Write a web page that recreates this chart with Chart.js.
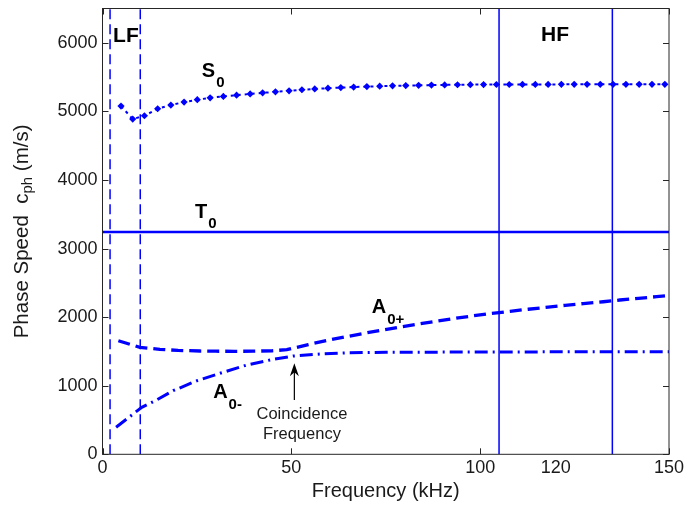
<!DOCTYPE html>
<html>
<head>
<meta charset="utf-8">
<script src="https://cdn.jsdelivr.net/npm/chart.js@4.4.1/dist/chart.umd.min.js"></script>
<style>
	html, body { margin: 0; padding: 0; background: #fff; }
	#wrap { width: 686px; height: 512px; position: relative; }
</style>
</head>
<body>
<div id="wrap"><canvas id="chart"></canvas></div>
<script>
// Axis ticks
const xTicks = [ 0, 50, 100, 120, 150 ];
const yTicks = [ 0, 1000, 2000, 3000, 4000, 5000, 6000 ];

// S0 mode (dotted with markers)
const s0Freq = [ 4.9, 8.0, 11.1, 14.6, 18.1, 21.6, 25.1, 28.5, 32.0, 35.5, 39.1, 42.4, 45.8, 49.4,
	52.8, 56.2, 59.7, 63.1, 66.5, 70.0, 73.4, 76.8, 80.3, 83.7,
	87.1, 90.6, 94.0, 97.4, 100.9, 104.3, 107.7, 111.2, 114.6, 118.0,
	121.5, 124.9, 128.3, 131.8, 135.2, 138.6, 142.1, 145.5, 148.9 ];
const s0Speed = [ 5077, 4888, 4936, 5038, 5092, 5135, 5170, 5198, 5218, 5236, 5255, 5270, 5285, 5300,
	5315, 5327, 5338, 5347, 5355, 5361, 5367, 5372, 5376, 5380,
	5383, 5386, 5388, 5390, 5391, 5392, 5392, 5393, 5393, 5393,
	5394, 5394, 5394, 5394, 5394, 5394, 5394, 5394, 5394 ];

// T0 mode (flat)
const t0Freq = [ 0, 150 ];
const t0Speed = [ 3240, 3240 ];

// A0+ mode (dashed)
const a0pFreq = [ 4.2, 9.9, 15.2, 20, 25.8, 30, 35, 40, 45, 48.8, 54.5, 59.4, 64.2, 69.1, 73.9, 78.3,
	83.2, 88, 92.9, 98.2, 101.7, 107.9, 112.7, 118, 122.5, 127.3, 132.6, 137, 141.9, 146.7, 150 ];
const a0pSpeed = [ 1656, 1560, 1531, 1515, 1506, 1503, 1502, 1503, 1510, 1525, 1600, 1660, 1712, 1762, 1810, 1852,
	1895, 1937, 1978, 2020, 2045, 2085, 2115, 2146, 2172, 2198, 2224, 2250, 2274, 2298, 2315 ];

// A0- mode (dash-dot)
const a0mFreq = [ 3.6, 10.4, 14.3, 18.7, 25, 31.1, 38.2, 45.2, 50.5, 57.6, 65, 75, 90, 105, 120, 135, 150 ];
const a0mSpeed = [ 394, 685, 791, 927, 1073, 1181, 1302, 1385, 1433, 1462, 1480, 1487, 1490, 1492, 1494, 1495, 1495 ];

// Band limits
const lfLines = [ 2, 10 ];
const hfLines = [ 105, 135 ];
const yMax = 6500;

const FONT = '"Liberation Sans", Arial, Helvetica, sans-serif';
const BLUE = '#0000ff';

const pts = ( xs, ys ) => xs.map( ( x, i ) => ( { x: x, y: ys[ i ] } ) );
const vline = ( f ) => [ { x: f, y: 0 }, { x: f, y: yMax } ];

const datasets = [
	{ data: pts( s0Freq, s0Speed ), borderColor: BLUE, borderWidth: 2, borderDash: [ 3, 4 ],
		pointStyle: 'rectRot', pointRadius: 3.6, pointBackgroundColor: BLUE, pointBorderWidth: 0 },
	{ data: pts( t0Freq, t0Speed ), borderColor: BLUE, borderWidth: 2.5, pointRadius: 0 },
	{ data: pts( a0pFreq, a0pSpeed ), borderColor: BLUE, borderWidth: 3.3, borderDash: [ 12, 6 ], pointRadius: 0 },
	{ data: pts( a0mFreq, a0mSpeed ), borderColor: BLUE, borderWidth: 3, borderDash: [ 13, 5, 2, 5 ], pointRadius: 0 },
];
lfLines.forEach( ( f ) => datasets.push( { data: vline( f ), borderColor: BLUE, borderWidth: 1.5, borderDash: [ 10, 5 ], pointRadius: 0 } ) );
hfLines.forEach( ( f ) => datasets.push( { data: vline( f ), borderColor: BLUE, borderWidth: 1.5, pointRadius: 0 } ) );
datasets.forEach( ( d ) => { d.showLine = true; d.fill = false; d.tension = 0; } );

// Text with a subscript, drawn at a data position
function subText( ctx, x, y, base, sub, size, subSize, drop, weight ) {
	ctx.font = `${ weight } ${ size }px ${ FONT }`;
	ctx.fillText( base, x, y );
	const w = ctx.measureText( base ).width;
	ctx.font = `${ weight } ${ subSize }px ${ FONT }`;
	ctx.fillText( sub, x + w + 1, y + drop );
}

const decor = {
	id: 'decor',
	afterDatasetsDraw( chart ) {
		const { ctx, chartArea: a, scales: { x, y } } = chart;
		const tl = 6;
		ctx.save();

		// Box and inside ticks
		ctx.strokeStyle = '#262626';
		ctx.lineWidth = 1;
		ctx.strokeRect( a.left, a.top, a.right - a.left, a.bottom - a.top );
		ctx.beginPath();
		xTicks.forEach( ( v ) => {
			if ( v === 120 ) return;
			const px = Math.round( x.getPixelForValue( v ) ) + 0.5;
			ctx.moveTo( px, a.bottom ); ctx.lineTo( px, a.bottom - tl );
			ctx.moveTo( px, a.top ); ctx.lineTo( px, a.top + tl );
		} );
		yTicks.forEach( ( v ) => {
			const py = Math.round( y.getPixelForValue( v ) ) + 0.5;
			ctx.moveTo( a.left, py ); ctx.lineTo( a.left + tl, py );
			ctx.moveTo( a.right, py ); ctx.lineTo( a.right - tl, py );
		} );
		ctx.stroke();

		// Labels
		ctx.fillStyle = '#000';
		ctx.textAlign = 'left';
		ctx.textBaseline = 'alphabetic';
		ctx.font = `bold 21px ${ FONT }`;
		ctx.fillText( 'LF', x.getPixelForValue( 2.8 ), y.getPixelForValue( 6010 ) );
		ctx.fillText( 'HF', x.getPixelForValue( 116.1 ), y.getPixelForValue( 6030 ) );
		subText( ctx, x.getPixelForValue( 26.3 ), y.getPixelForValue( 5504 ), 'S', '0', 20, 15, 10, 'bold' );
		subText( ctx, x.getPixelForValue( 24.5 ), y.getPixelForValue( 3445 ), 'T', '0', 20, 15, 10, 'bold' );
		subText( ctx, x.getPixelForValue( 71.3 ), y.getPixelForValue( 2060 ), 'A', '0+', 20, 15, 11, 'bold' );
		subText( ctx, x.getPixelForValue( 29.3 ), y.getPixelForValue( 822 ), 'A', '0-', 20, 15, 11, 'bold' );

		// Coincidence arrow and note
		const ax = x.getPixelForValue( 50.8 );
		const tipY = y.getPixelForValue( 1327 );
		const baseY = y.getPixelForValue( 793 );
		ctx.strokeStyle = '#000';
		ctx.lineWidth = 1.2;
		ctx.beginPath();
		ctx.moveTo( ax, baseY ); ctx.lineTo( ax, tipY + 8 );
		ctx.stroke();
		ctx.beginPath();
		ctx.moveTo( ax, tipY );
		ctx.lineTo( ax - 4.5, tipY + 13 );
		ctx.lineTo( ax, tipY + 9 );
		ctx.lineTo( ax + 4.5, tipY + 13 );
		ctx.closePath();
		ctx.fill();

		ctx.font = `16.5px ${ FONT }`;
		ctx.textAlign = 'center';
		ctx.fillStyle = '#1a1a1a';
		ctx.fillText( 'Coincidence', x.getPixelForValue( 52.8 ), y.getPixelForValue( 516 ) );
		ctx.fillText( 'Frequency', x.getPixelForValue( 52.8 ), y.getPixelForValue( 230 ) );

		// Y axis title with subscript
		ctx.translate( 22, ( a.top + a.bottom ) / 2 );
		ctx.rotate( -Math.PI / 2 );
		ctx.textAlign = 'left';
		ctx.textBaseline = 'middle';
		ctx.fillStyle = '#1a1a1a';
		const partA = 'Phase Speed  c';
		const partB = 'ph';
		const partC = ' (m/s)';
		ctx.font = `20.5px ${ FONT }`;
		const wA = ctx.measureText( partA ).width;
		const wC = ctx.measureText( partC ).width;
		ctx.font = `15px ${ FONT }`;
		const wB = ctx.measureText( partB ).width;
		let cx = -( wA + wB + wC ) / 2;
		ctx.font = `20.5px ${ FONT }`;
		ctx.fillText( partA, cx, 0 );
		cx += wA;
		ctx.font = `15px ${ FONT }`;
		ctx.fillText( partB, cx, 6 );
		cx += wB;
		ctx.font = `20.5px ${ FONT }`;
		ctx.fillText( partC, cx, 0 );

		ctx.restore();
	},
};

new Chart( document.getElementById( 'chart' ), {
	type: 'scatter',
	data: { datasets: datasets },
	options: {
		responsive: true,
		maintainAspectRatio: false,
		animation: false,
		devicePixelRatio: 1,
		layout: { padding: { top: 8.5, right: 17, left: 0, bottom: 0 } },
		plugins: { legend: { display: false }, tooltip: { enabled: false } },
		scales: {
			x: {
				type: 'linear', min: 0, max: 150,
				afterBuildTicks: ( s ) => { s.ticks = xTicks.map( ( v ) => ( { value: v } ) ); },
				afterFit: ( s ) => { s.height = 57.7; s.paddingLeft = 0; s.paddingRight = 0; },
				grid: { display: false, drawTicks: false },
				border: { display: false },
				ticks: { color: '#1a1a1a', font: { family: FONT, size: 18 }, padding: 3, maxRotation: 0, autoSkip: false,
					callback: ( v ) => String( v ) },
				title: { display: true, text: 'Frequency (kHz)', color: '#1a1a1a', font: { family: FONT, size: 20 }, padding: { top: 0, bottom: 9 } },
			},
			y: {
				type: 'linear', min: 0, max: yMax,
				afterBuildTicks: ( s ) => { s.ticks = yTicks.map( ( v ) => ( { value: v } ) ); },
				afterFit: ( s ) => { s.width = 102.5; s.paddingTop = 0; s.paddingBottom = 0; },
				grid: { display: false, drawTicks: false },
				border: { display: false },
				ticks: { color: '#1a1a1a', font: { family: FONT, size: 18 }, padding: 5, callback: ( v ) => String( v ) },
			},
		},
	},
	plugins: [ decor ],
} );
</script>
</body>
</html>
